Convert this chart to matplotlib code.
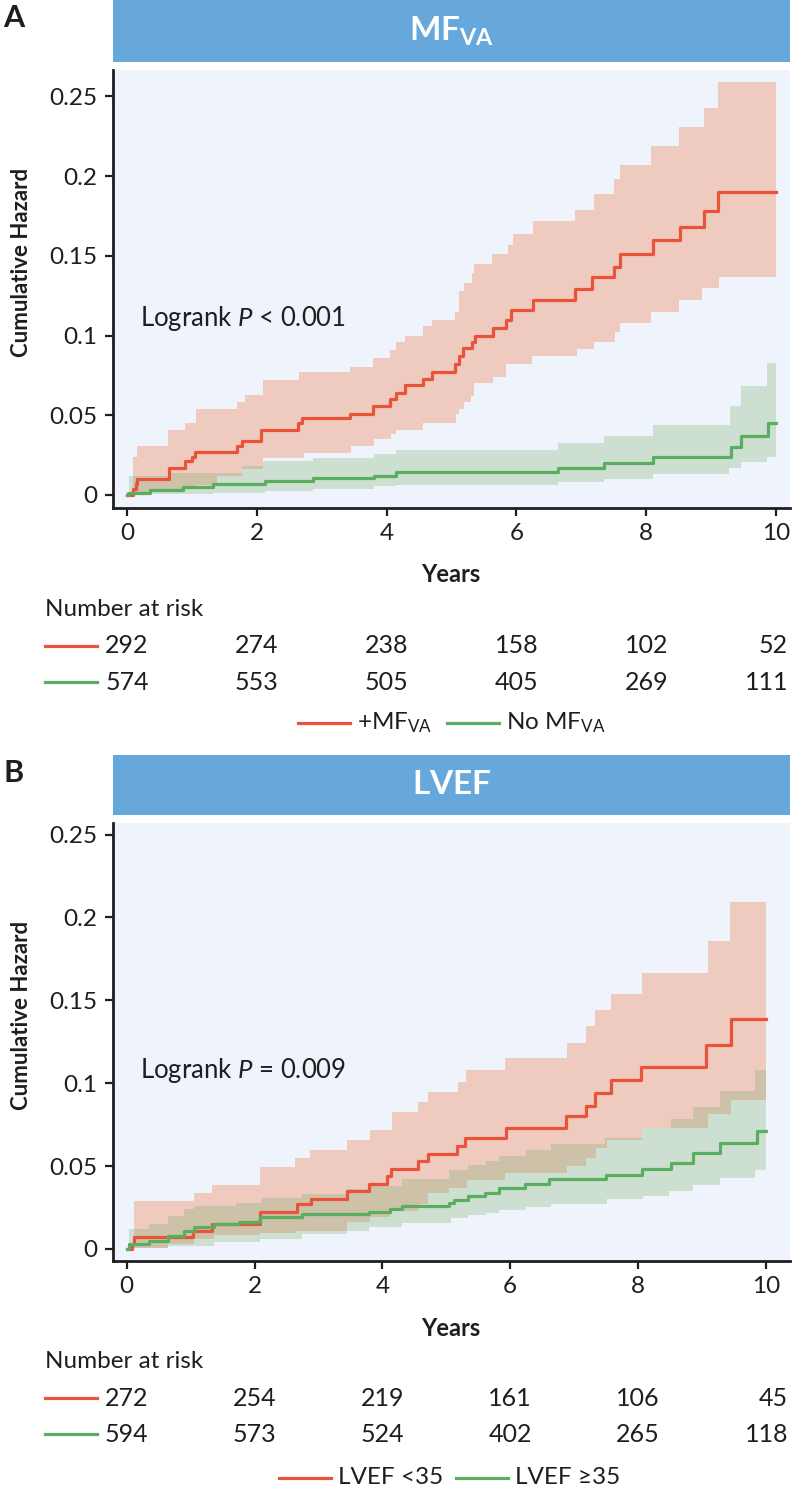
import numpy as np
import matplotlib
matplotlib.use('Agg')
import matplotlib.pyplot as plt
from matplotlib import transforms
from matplotlib.lines import Line2D

plt.rcParams['font.family'] = ['Lato', 'DejaVu Sans']
plt.rcParams['mathtext.fontset'] = 'custom'
plt.rcParams['mathtext.rm'] = 'Lato'
plt.rcParams['mathtext.it'] = 'Lato:italic'
plt.rcParams['mathtext.bf'] = 'Lato:bold'

# ---- Panel A: MF_VA ----
a_red_t = [0, 0.10, 0.14, 0.16, 0.65, 0.89, 1.0, 1.05, 1.70, 1.77, 2.07, 2.64, 2.69, 3.43, 3.79, 4.05, 4.14,
           4.29, 4.56, 4.70, 5.06, 5.11, 5.17, 5.31, 5.36, 5.64, 5.84, 5.92, 6.25, 6.90, 7.16, 7.51, 7.59,
           8.10, 8.52, 8.89, 9.10, 10.0]
a_red_y = [0, 0.004, 0.007, 0.010, 0.017, 0.021, 0.024, 0.027, 0.031, 0.034, 0.041, 0.045, 0.048, 0.051,
           0.056, 0.060, 0.064, 0.069, 0.073, 0.077, 0.082, 0.087, 0.092, 0.096, 0.100, 0.105, 0.110, 0.116,
           0.122, 0.129, 0.137, 0.143, 0.151, 0.160, 0.168, 0.178, 0.190, 0.190]
a_red_hi_t = [0, 0.09, 0.15, 0.64, 0.89, 1.07, 1.70, 1.82, 2.10, 2.65, 3.43, 3.79, 4.05, 4.14, 4.29, 4.56,
              4.70, 5.06, 5.11, 5.19, 5.32, 5.35, 5.62, 5.87, 5.95, 6.25, 6.90, 7.19, 7.51, 7.59, 8.07, 8.51,
              8.89, 9.10, 10.0]
a_red_hi_y = [0.0, 0.024, 0.031, 0.041, 0.045, 0.054, 0.0585, 0.063, 0.072, 0.077, 0.0805, 0.086, 0.091,
              0.096, 0.100, 0.106, 0.110, 0.115, 0.128, 0.133, 0.139, 0.145, 0.151, 0.157, 0.164, 0.172,
              0.179, 0.189, 0.198, 0.207, 0.219, 0.231, 0.243, 0.259, 0.259]
a_red_lo_t = [0, 0.10, 0.65, 1.05, 1.38, 1.78, 2.09, 2.73, 3.45, 3.81, 4.07, 4.15, 4.56, 5.07, 5.12, 5.20,
              5.30, 5.35, 5.64, 5.84, 6.24, 6.94, 7.20, 7.52, 7.59, 8.07, 8.51, 8.86, 9.12, 10.0]
a_red_lo_y = [0, 0.002, 0.004, 0.006, 0.012, 0.016, 0.023, 0.026, 0.031, 0.035, 0.038, 0.041, 0.045, 0.051,
              0.054, 0.058, 0.062, 0.070, 0.074, 0.082, 0.087, 0.0915, 0.096, 0.102, 0.108, 0.115, 0.122,
              0.130, 0.137, 0.137]
a_grn_t = [0, 0.02, 0.35, 0.87, 1.33, 2.12, 2.87, 3.81, 4.14, 6.64, 7.35, 8.10, 9.30, 9.46, 9.87, 10.0]
a_grn_y = [0, 0.0015, 0.003, 0.005, 0.007, 0.009, 0.0105, 0.012, 0.0146, 0.0167, 0.0198, 0.0236, 0.030,
           0.037, 0.045, 0.045]
a_grn_hi_t = [0, 0.03, 0.65, 1.78, 2.09, 2.86, 3.81, 4.15, 6.64, 7.35, 8.10, 9.29, 9.46, 9.86, 10.0]
a_grn_hi_y = [0, 0.0119, 0.0135, 0.018, 0.021, 0.0231, 0.0257, 0.0282, 0.0328, 0.037, 0.0439, 0.056, 0.0684,
              0.0826, 0.0826]
a_grn_lo_t = [0, 0.35, 1.33, 2.12, 2.87, 3.81, 4.15, 6.64, 7.35, 8.10, 9.28, 9.46, 9.86, 10.0]
a_grn_lo_y = [0, 0.0005, 0.0015, 0.0025, 0.0035, 0.0055, 0.0065, 0.0084, 0.0098, 0.0132, 0.0167, 0.0204,
              0.024, 0.024]

# ---- Panel B: LVEF ----
b_red_t = [0, 0.09, 0.12, 1.03, 1.34, 2.09, 2.67, 2.88, 3.45, 3.79, 4.07, 4.14, 4.56, 4.71, 5.17, 5.30, 5.93,
           6.88, 7.18, 7.33, 7.58, 8.05, 9.07, 9.46, 10.0]
b_red_y = [0, 0.003, 0.007, 0.011, 0.015, 0.022, 0.027, 0.030, 0.035, 0.039, 0.044, 0.048, 0.053, 0.057,
           0.062, 0.067, 0.073, 0.080, 0.086, 0.094, 0.102, 0.110, 0.123, 0.139, 0.139]
b_red_hi_t = [0, 0.12, 1.06, 1.34, 2.09, 2.63, 2.87, 3.45, 3.81, 4.15, 4.56, 4.71, 5.19, 5.31, 5.92, 6.89, 7.19,
              7.33, 7.58, 8.07, 9.10, 9.44, 10.0]
b_red_hi_y = [0, 0.029, 0.0335, 0.0387, 0.0496, 0.0549, 0.0597, 0.0658, 0.0718, 0.0825, 0.0886, 0.0946,
              0.1007, 0.1077, 0.1154, 0.1243, 0.1344, 0.144, 0.154, 0.1667, 0.186, 0.2096, 0.2096]
b_red_lo_t = [0, 0.10, 0.64, 1.06, 1.37, 2.09, 2.65, 3.45, 3.81, 4.12, 4.56, 4.71, 5.04, 5.33, 5.92, 6.89, 7.18,
              7.34, 7.51, 8.07, 9.10, 9.46, 10.0]
b_red_lo_y = [0, 0.0008, 0.003, 0.006, 0.0085, 0.0095, 0.011, 0.016, 0.019, 0.023, 0.027, 0.034, 0.037,
              0.0416, 0.0456, 0.050, 0.055, 0.061, 0.066, 0.073, 0.0815, 0.0896, 0.0896]
b_grn_t = [0, 0.04, 0.35, 0.64, 0.90, 1.06, 1.37, 1.76, 2.09, 2.75, 3.79, 4.12, 4.31, 5.04, 5.12, 5.34, 5.61,
           5.82, 6.23, 6.61, 7.50, 8.07, 8.51, 8.86, 9.28, 9.86, 10.0]
b_grn_y = [0, 0.003, 0.005, 0.008, 0.011, 0.013, 0.015, 0.0165, 0.019, 0.021, 0.022, 0.024, 0.0256, 0.028,
           0.0296, 0.032, 0.034, 0.037, 0.039, 0.042, 0.0445, 0.048, 0.052, 0.058, 0.064, 0.071, 0.071]
b_grn_hi_t = [0, 0.03, 0.35, 0.64, 0.90, 1.06, 1.71, 2.10, 2.75, 3.45, 3.81, 4.31, 5.04, 5.34, 5.62, 5.82,
              6.25, 6.64, 7.48, 8.07, 8.51, 8.86, 9.29, 9.83, 10.0]
b_grn_hi_y = [0, 0.0119, 0.0149, 0.020, 0.024, 0.026, 0.028, 0.031, 0.033, 0.036, 0.038, 0.042, 0.0476,
              0.0506, 0.0533, 0.0559, 0.0597, 0.063, 0.067, 0.0728, 0.0785, 0.0859, 0.0952, 0.1077, 0.1077]
b_grn_lo_t = [0, 0.04, 0.64, 1.37, 2.09, 2.75, 3.45, 3.79, 4.31, 5.07, 5.34, 5.62, 5.83, 6.25, 6.64, 7.51,
              8.08, 8.49, 8.86, 9.29, 9.83, 10.0]
b_grn_lo_y = [0, 0.0005, 0.002, 0.004, 0.006, 0.009, 0.011, 0.013, 0.0159, 0.0185, 0.0203, 0.0219, 0.0234,
              0.025, 0.027, 0.030, 0.032, 0.035, 0.0385, 0.0427, 0.0476, 0.0476]

risk_years = [0, 2, 4, 6, 8, 10]
a_risk_red = [292, 274, 238, 158, 102, 52]
a_risk_grn = [574, 553, 505, 405, 269, 111]
b_risk_red = [272, 254, 219, 161, 106, 45]
b_risk_grn = [594, 573, 524, 402, 265, 118]

RED = '#E9533A'
GREEN = '#5BAD5F'
RED_FILL = '#EF6B34'
GREEN_FILL = '#7FAF70'
HEADER = '#66A8DB'
PANEL_BG = '#EFF4FC'
INK = '#1E1E1E'

W, H = 792, 1492
fig = plt.figure(figsize=(W / 100, H / 100), dpi=100)


def fx(px):
    return px / W


def fy(py):
    return 1 - py / H


def step_at(t, y, grid):
    idx = np.searchsorted(t, grid, side='right') - 1
    return np.asarray(y)[idx]


def band(ax, lo_t, lo_y, hi_t, hi_y, color, alpha):
    grid = np.union1d(lo_t, hi_t)
    ax.fill_between(grid, step_at(lo_t, lo_y, grid), step_at(hi_t, hi_y, grid),
                    step='post', color=color, alpha=alpha, lw=0)


def panel(letter, title, hdr_top, hdr_bot, ax_top, ax_bot, xmax, ymin, ymax, red, grn, ptext,
          risk_red, risk_grn, years_y, risk_y, labels, leg_y, leg_x):
    # header bar
    hax = fig.add_axes([fx(113), fy(hdr_bot), fx(677), (hdr_bot - hdr_top) / H])
    hax.set_facecolor(HEADER)
    hax.set_xticks([])
    hax.set_yticks([])
    for s in hax.spines.values():
        s.set_visible(False)
    hax.text(0.5, 0.5, title, color='white', fontsize=24, ha='center', va='center',
             transform=hax.transAxes)
    fig.text(fx(3), fy(hdr_top + 18), letter, fontsize=22, fontweight='bold', ha='left', va='center',
             color=INK)

    ax = fig.add_axes([fx(113), fy(ax_bot), fx(677), (ax_bot - ax_top) / H])
    ax.set_facecolor(PANEL_BG)
    band(ax, *red[2:], RED_FILL, 0.3)
    band(ax, *grn[2:], GREEN_FILL, 0.3)
    ax.step(red[0], red[1], where='post', color=RED, lw=2.3)
    ax.step(grn[0], grn[1], where='post', color=GREEN, lw=2.3)
    ax.set_xlim(-0.215, xmax)
    ax.set_ylim(ymin, ymax)
    ax.set_xticks(risk_years)
    ax.set_yticks([0, 0.05, 0.1, 0.15, 0.2, 0.25])
    ax.set_yticklabels(['0', '0.05', '0.1', '0.15', '0.2', '0.25'])
    ax.tick_params(labelsize=17.5, width=1.6, length=6, color=INK, labelcolor=INK, pad=5)
    for s in ['top', 'right']:
        ax.spines[s].set_visible(False)
    for s in ['left', 'bottom']:
        ax.spines[s].set_linewidth(2)
        ax.spines[s].set_color(INK)
    ax.set_ylabel('Cumulative Hazard', fontsize=16, fontweight='bold', color=INK)
    ax.yaxis.set_label_coords(-0.12, 0.56)
    ax.text(0.2, ptext[0], ptext[1], fontsize=18.5, ha='left', va='center', color=INK)

    fig.text(fx(451), fy(years_y), 'Years', fontsize=17, fontweight='bold', ha='center', va='center',
             color=INK)
    fig.text(fx(45), fy(risk_y), 'Number at risk', fontsize=17.5, ha='left', va='center', color=INK)
    trans = transforms.blended_transform_factory(ax.transData, fig.transFigure)
    for row, (vals, col) in enumerate([(risk_red, RED), (risk_grn, GREEN)]):
        yy = fy(risk_y + 36 * (row + 1))
        fig.add_artist(Line2D([fx(45), fx(97)], [yy, yy], color=col, lw=2.3))
        for yr, v in zip(risk_years[:-1], vals[:-1]):
            fig.text(yr, yy, str(v), fontsize=18, ha='center', va='center', transform=trans, color=INK)
        # last column sits flush with the right edge of the panel
        fig.text(fx(788), yy, str(vals[-1]), fontsize=18, ha='right', va='center', color=INK)

    for lab, col, x0 in zip(labels, [RED, GREEN], leg_x):
        yy = fy(leg_y)
        fig.add_artist(Line2D([fx(x0), fx(x0 + 52)], [yy, yy], color=col, lw=2.3))
        fig.text(fx(x0 + 59), yy, lab, fontsize=17.5, ha='left', va='center', color=INK)
    return ax


panel('A', r'$\mathbf{MF}_{\mathbf{VA}}$', 0, 62, 70, 508, 10.215, -0.0082, 0.2666,
      (a_red_t, a_red_y, a_red_lo_t, a_red_lo_y, a_red_hi_t, a_red_hi_y),
      (a_grn_t, a_grn_y, a_grn_lo_t, a_grn_lo_y, a_grn_hi_t, a_grn_hi_y),
      (0.111, r'Logrank $\mathit{P}$ < 0.001'),
      a_risk_red, a_risk_grn, 575, 610,
      [r'+MF$_{\mathrm{VA}}$', r'No MF$_{\mathrm{VA}}$'], 723, [298, 447])

panel('B', r'$\mathbf{LVEF}$', 755, 815, 823, 1261, 10.38, -0.0073, 0.257,
      (b_red_t, b_red_y, b_red_lo_t, b_red_lo_y, b_red_hi_t, b_red_hi_y),
      (b_grn_t, b_grn_y, b_grn_lo_t, b_grn_lo_y, b_grn_hi_t, b_grn_hi_y),
      (0.1077, r'Logrank $\mathit{P}$ = 0.009'),
      b_risk_red, b_risk_grn, 1328, 1362,
      ['LVEF <35', 'LVEF ≥35'], 1478, [279, 456])

fig.savefig('out.png', dpi=100)
